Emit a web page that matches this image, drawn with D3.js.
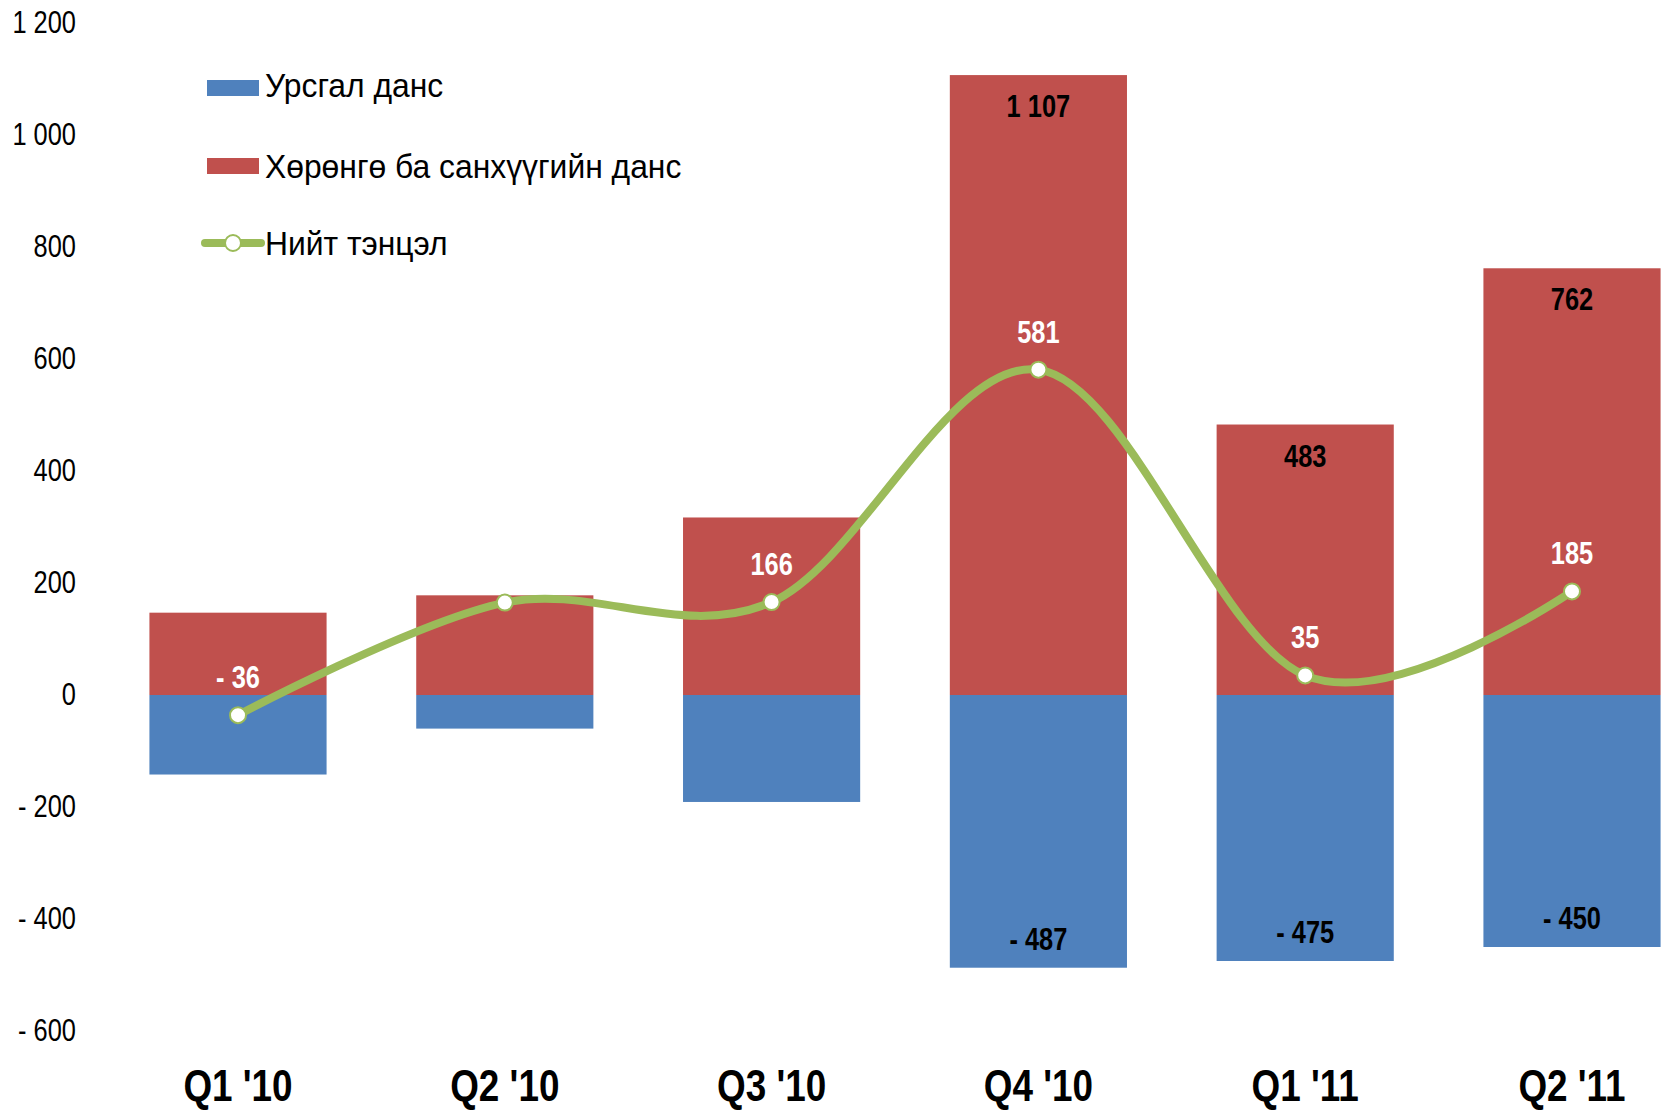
<!DOCTYPE html>
<html>
<head>
<meta charset="utf-8">
<script src="https://cdn.jsdelivr.net/npm/d3@7"></script>
<style>
  body { margin: 0; background: #fff; }
  svg { display: block; }
  text { font-family: "Liberation Sans", Arial, sans-serif; }
</style>
</head>
<body>
<svg id="chart" width="1663" height="1111"></svg>
<script>
// Chart data
const categories = ["Q1 '10", "Q2 '10", "Q3 '10", "Q4 '10", "Q1 '11", "Q2 '11"];
const currentAccount = [-142, -60, -191, -487, -475, -450];   // Урсгал данс
const capitalAccount = [147, 178, 317, 1107, 483, 762];       // Хөрөнгө ба санхүүгийн данс
const totalBalance = [-36, 165, 166, 581, 35, 185];           // Нийт тэнцэл
const labeledBars = ["Q4 '10", "Q1 '11", "Q2 '11"];
const yTicks = [-600, -400, -200, 0, 200, 400, 600, 800, 1000, 1200];
const legendNames = ["Урсгал данс", "Хөрөнгө ба санхүүгийн данс", "Нийт тэнцэл"];

const colors = { current: "#4F81BD", capital: "#C0504D", total: "#9BBB59" };
const NARROW = "scale(0.82,1)"; // no Arial Narrow installed, squeeze Liberation Sans

const svg = d3.select("#chart");

// Scales
const x = d3.scaleBand()
  .domain(categories)
  .range([104.6, 1705.4])
  .paddingInner(0.336)
  .paddingOuter(0.168);

const y = d3.scaleLinear()
  .domain([-600, 1200])
  .range([1031, 23]);

const cx = d => x(d.cat) + x.bandwidth() / 2;

// number format: "1 107", "- 487"
const fmt = v => (v < 0 ? "- " : "") + d3.format(",")(Math.abs(v)).replace(/,/g, " ");

const rows = categories.map((c, i) => ({
  cat: c, cur: currentAccount[i], cap: capitalAccount[i], tot: totalBalance[i]
}));

// Y axis (labels only)
const yAxis = svg.append("g")
  .attr("transform", "translate(76,0)")
  .call(d3.axisLeft(y).tickValues(yTicks).tickSize(0).tickPadding(0).tickFormat(fmt));
yAxis.select(".domain").remove();
yAxis.selectAll("text")
  .attr("transform", NARROW)
  .style("font-size", "31px")
  .style("font-family", "Liberation Sans")
  .attr("fill", "#000");

// X axis (labels only)
const xAxis = svg.append("g")
  .attr("transform", `translate(0,${y(-600)})`)
  .call(d3.axisBottom(x).tickSize(0).tickPadding(0));
xAxis.select(".domain").remove();
xAxis.selectAll("text")
  .attr("dy", null)
  .attr("y", 70)
  .attr("transform", NARROW)
  .style("font-size", "45px")
  .style("font-weight", "bold")
  .style("font-family", "Liberation Sans")
  .attr("fill", "#000");

// Bars
svg.append("g").selectAll("rect")
  .data(rows).enter().append("rect")
  .attr("x", d => x(d.cat))
  .attr("width", x.bandwidth())
  .attr("y", d => y(d.cap))
  .attr("height", d => y(0) - y(d.cap))
  .attr("fill", colors.capital);

svg.append("g").selectAll("rect")
  .data(rows).enter().append("rect")
  .attr("x", d => x(d.cat))
  .attr("width", x.bandwidth())
  .attr("y", y(0))
  .attr("height", d => y(d.cur) - y(0))
  .attr("fill", colors.current);

// Bar labels
const big = rows.filter(d => labeledBars.includes(d.cat));
svg.append("g").selectAll("text")
  .data(big).enter().append("text")
  .attr("transform", d => `translate(${cx(d)},${y(d.cap) + 42}) ${NARROW}`)
  .attr("text-anchor", "middle")
  .style("font-size", "31px")
  .style("font-weight", "bold")
  .text(d => fmt(d.cap));

svg.append("g").selectAll("text")
  .data(big).enter().append("text")
  .attr("transform", d => `translate(${cx(d)},${y(d.cur) - 18}) ${NARROW}`)
  .attr("text-anchor", "middle")
  .style("font-size", "31px")
  .style("font-weight", "bold")
  .text(d => fmt(d.cur));

// Total balance line
const line = d3.line()
  .x(cx)
  .y(d => y(d.tot))
  .curve(d3.curveCardinal);

svg.append("path")
  .datum(rows)
  .attr("d", line)
  .attr("fill", "none")
  .attr("stroke", colors.total)
  .attr("stroke-width", 8)
  .attr("stroke-linecap", "round");

svg.append("g").selectAll("circle")
  .data(rows).enter().append("circle")
  .attr("cx", cx)
  .attr("cy", d => y(d.tot))
  .attr("r", 8)
  .attr("fill", "#fff")
  .attr("stroke", colors.total)
  .attr("stroke-width", 2);

svg.append("g").selectAll("text")
  .data(rows).enter().append("text")
  .attr("transform", d => `translate(${cx(d)},${y(d.tot) - 27}) ${NARROW}`)
  .attr("text-anchor", "middle")
  .style("font-size", "31px")
  .style("font-weight", "bold")
  .attr("fill", "#fff")
  .text(d => fmt(d.tot));

// Legend
const legend = svg.append("g").attr("transform", "translate(207,0)");
const legendY = [88, 166, 243];

legend.append("rect").attr("x", 0).attr("y", legendY[0] - 8).attr("width", 52).attr("height", 16).attr("fill", colors.current);
legend.append("rect").attr("x", 0).attr("y", legendY[1] - 8).attr("width", 52).attr("height", 16).attr("fill", colors.capital);
legend.append("line")
  .attr("x1", -2).attr("x2", 54).attr("y1", legendY[2]).attr("y2", legendY[2])
  .attr("stroke", colors.total).attr("stroke-width", 8).attr("stroke-linecap", "round");
legend.append("circle").attr("cx", 26).attr("cy", legendY[2]).attr("r", 8)
  .attr("fill", "#fff").attr("stroke", colors.total).attr("stroke-width", 2);

legend.selectAll("text.lg")
  .data(legendNames).enter().append("text")
  .attr("transform", (d, i) => `translate(58,${legendY[i] + (i === 0 ? 9 : 12)}) scale(0.965,1)`)
  .style("font-size", "33px")
  .text(d => d);
</script>
</body>
</html>
